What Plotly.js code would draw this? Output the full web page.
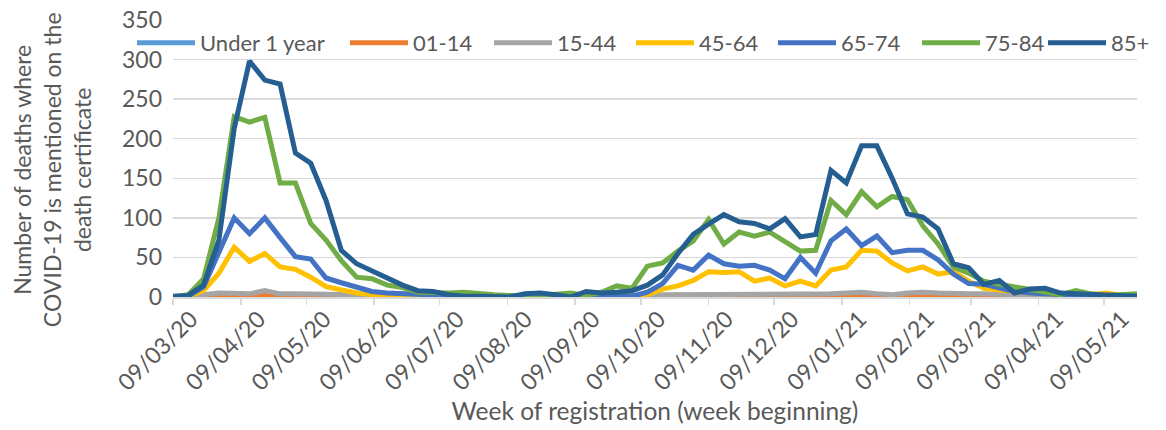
<!DOCTYPE html>
<html>
<head>
<meta charset="utf-8">
<script src="https://cdn.plot.ly/plotly-3.0.1.min.js"></script>
<style>html,body{margin:0;padding:0;background:#fff;}#chart{width:1166px;height:430px;}</style>
</head>
<body>
<div id="chart"></div>
<script>
var weeks = ["2020-03-09","2020-03-16","2020-03-23","2020-03-30","2020-04-06","2020-04-13","2020-04-20","2020-04-27",
"2020-05-04","2020-05-11","2020-05-18","2020-05-25","2020-06-01","2020-06-08","2020-06-15","2020-06-22","2020-06-29",
"2020-07-06","2020-07-13","2020-07-20","2020-07-27","2020-08-03","2020-08-10","2020-08-17","2020-08-24","2020-08-31",
"2020-09-07","2020-09-14","2020-09-21","2020-09-28","2020-10-05","2020-10-12","2020-10-19","2020-10-26","2020-11-02",
"2020-11-09","2020-11-16","2020-11-23","2020-11-30","2020-12-07","2020-12-14","2020-12-21","2020-12-28","2021-01-04",
"2021-01-11","2021-01-18","2021-01-25","2021-02-01","2021-02-08","2021-02-15","2021-02-22","2021-03-01","2021-03-08",
"2021-03-15","2021-03-22","2021-03-29","2021-04-05","2021-04-12","2021-04-19","2021-04-26","2021-05-03","2021-05-10",
"2021-05-17","2021-05-24"];

var under1 = [0,0,0,0,0,0,0,0,0,0,0,0,0,0,0,0,0,0,0,0,0,0,0,0,0,0,0,0,0,0,0,0,
              0,0,0,0,0,0,0,0,0,0,0,0,0,0,0,0,0,0,0,0,0,0,0,0,0,0,0,0,0,0,0,0];
var age0114 = [0,0,0,0,1,0,2,1,0,1,0,0,0,0,0,0,0,0,0,0,0,0,0,0,0,0,0,0,0,0,0,0,
               0,0,0,0,0,0,0,0,0,1,1,0,0,2,2,1,0,1,1,0,0,0,0,0,0,0,0,0,0,0,0,0];
var age1544 = [0,1,3,5,5,4,8,4,4,4,4,3,3,2,2,2,2,1,1,1,1,1,1,1,1,1,1,1,1,2,2,2,
               3,3,3,3,4,4,3,3,3,3,4,4,5,6,4,3,5,6,5,4,4,4,3,3,3,2,2,2,2,2,2,2];
var age4564 = [0,1,8,30,63,45,55,38,35,25,13,9,5,3,2,1,1,1,0,0,0,0,0,0,0,0,0,0,0,0,1,3,
               10,14,21,32,31,32,20,24,14,20,14,34,38,59,58,43,33,38,29,32,20,11,9,6,5,4,3,3,3,5,2,2];
var age6574 = [0,1,13,58,100,80,100,75,51,48,24,18,12,7,5,4,4,3,2,1,1,1,1,1,1,1,0,1,1,1,1,6,
               17,40,34,53,42,39,40,34,23,50,30,71,86,65,77,56,59,59,47,29,17,16,11,7,5,4,2,1,1,1,1,1];
var age7584 = [0,3,23,100,228,221,227,144,144,93,72,46,25,23,15,12,6,5,5,6,4,3,2,1,2,3,5,2,6,14,11,39,
               43,58,71,98,67,82,77,82,70,58,59,122,104,133,114,127,123,90,67,38,30,20,16,13,10,6,3,8,4,2,3,4];
var age85 = [1,2,15,72,213,298,274,269,182,169,122,59,42,33,23,15,8,7,3,1,1,1,0,4,5,3,0,7,5,6,8,15,
             28,55,79,92,104,95,93,86,99,76,79,160,144,191,191,150,105,101,86,42,37,16,21,5,10,11,5,4,3,3,1,1];

var names = ["Under 1 year","01-14","15-44","45-64","65-74","75-84","85+"];
var colors = ["#5B9BD5","#ED7D31","#A5A5A5","#FFC000","#4472C4","#70AD47","#255E91"];
var series = [under1, age0114, age1544, age4564, age6574, age7584, age85];

var legendIds = ["legend","legend2","legend3","legend4","legend5","legend6","legend7"];
var traces = series.map(function(s, i){
  return {x: weeks, y: s, name: names[i], type: "scatter", mode: "lines", legend: legendIds[i],
          line: {color: colors[i], width: 5}, hoverinfo: "x+y+name"};
});

var FONT = "Lato, 'Open Sans', sans-serif";
var M = {l: 173, r: 28, t: 20, b: 133};
var plotW = 1166 - M.l - M.r, plotH = 430 - M.t - M.b;

var layout = {
  width: 1166, height: 430,
  margin: M,
  paper_bgcolor: "#ffffff", plot_bgcolor: "#ffffff",
  font: {family: FONT, color: "#595959", size: 22},
  showlegend: true,
  xaxis: {
    type: "date", range: ["2020-03-09", "2021-05-24"],
    tick0: "2020-03-09", dtick: "M1", tickformat: "%d/%m/%y", tickangle: -45,
    ticks: "outside", ticklen: 6, tickcolor: "#d9d9d9", tickwidth: 1.5,
    showline: true, linecolor: "#d9d9d9", linewidth: 1.5, showgrid: false, zeroline: false,
    tickfont: {size: 23, color: "#595959"}, ticklabelshift: 18, ticklabelstandoff: -8,
    title: {text: "Week of registration (week beginning)", font: {size: 24.5, color: "#595959"}, standoff: 4}
  },
  yaxis: {
    range: [0, 350], dtick: 50, tick0: 0, showgrid: true, gridcolor: "#d9d9d9", gridwidth: 1.5,
    zeroline: false, showline: false, ticks: "", tickfont: {size: 23, color: "#595959"}, ticklabelstandoff: 10
  },
  annotations: [{
    text: "Number of deaths where<br>COVID-19 is mentioned on the<br>death certificate",
    textangle: -90, xref: "paper", yref: "paper",
    x: (52 - M.l) / plotW, y: (M.t + plotH - 170) / plotH, xanchor: "center", yanchor: "middle",
    showarrow: false, font: {size: 23, color: "#595959"}
  }]
};

// one legend block per series, placed along the top row like the reference
var legendStarts = [137, 350, 494, 636, 778, 922];
legendIds.forEach(function(id, i){
  var cfg = {orientation: "h", xanchor: "left",
             y: (M.t + plotH - 43) / plotH, yanchor: "middle",
             bgcolor: "rgba(0,0,0,0)", font: {size: 22, color: "#595959"}, itemwidth: 58};
  if (i < legendStarts.length) {
    cfg.x = (legendStarts[i] - 5 - M.l) / plotW;
  } else {
    cfg.x = (1155 - M.l) / plotW; cfg.xanchor = "right";
  }
  layout[id] = cfg;
});

Plotly.newPlot("chart", traces, layout, {displayModeBar: false, staticPlot: true});
</script>
</body>
</html>
